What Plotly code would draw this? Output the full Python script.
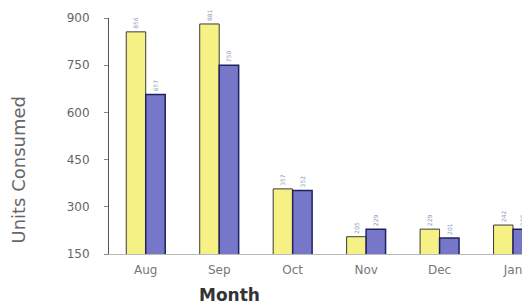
import plotly.graph_objects as go

months = ["Aug", "Sep", "Oct", "Nov", "Dec", "Jan"]
series_a = [856, 881, 357, 205, 229, 242]
series_b = [657, 750, 352, 229, 201, 229]
y_ticks = [150, 300, 450, 600, 750, 900]

FONT = "DejaVu Sans, Liberation Sans, Arial, sans-serif"

fig = go.Figure()
fig.add_trace(go.Bar(
    x=months, y=series_a,
    marker=dict(color="#f6f184", line=dict(color="#3a3a3a", width=1)),
    text=[str(v) for v in series_a], textposition="outside",
    textangle=-90, textfont=dict(size=6, color="#8a9bb8"),
    cliponaxis=False,
))
fig.add_trace(go.Bar(
    x=months, y=series_b,
    marker=dict(color="#7677c9", line=dict(color="#1f2262", width=1.5)),
    text=[str(v) for v in series_b], textposition="outside",
    textangle=-90, textfont=dict(size=6, color="#8a9bb8"),
    cliponaxis=False,
))

fig.update_layout(
    width=530, height=305,
    margin=dict(l=101, r=0, t=10, b=59),
    paper_bgcolor="white", plot_bgcolor="white",
    barmode="group", bargap=0.47, bargroupgap=0.0,
    showlegend=False,
    font=dict(family=FONT, color="#555555"),
    xaxis=dict(
        range=[-0.5, 5.34], showgrid=False, zeroline=False,
        showline=True, linecolor="#b8b8b8", linewidth=1,
        ticks="", ticklabelstandoff=5,
        tickfont=dict(size=12, color="#777777"),
    ),
    yaxis=dict(
        range=[150, 900], tickvals=y_ticks, showgrid=False, zeroline=False,
        showline=True, linecolor="#555555", linewidth=1,
        ticks="outside", ticklen=4, tickcolor="#888888",
        ticklabelstandoff=12,
        tickfont=dict(size=12, color="#666666"),
    ),
    annotations=[
        dict(text="Units Consumed", xref="paper", yref="paper",
             x=-0.211, y=0.36, xanchor="center", yanchor="middle",
             textangle=-90, showarrow=False,
             font=dict(family=FONT, size=18, color="#666666")),
        dict(text="<b>Month</b>", xref="paper", yref="paper",
             x=0.28, y=-0.174, xanchor="center", yanchor="middle",
             showarrow=False, font=dict(family=FONT, size=17, color="#333333")),
    ],
)

fig.write_html("out.html")
